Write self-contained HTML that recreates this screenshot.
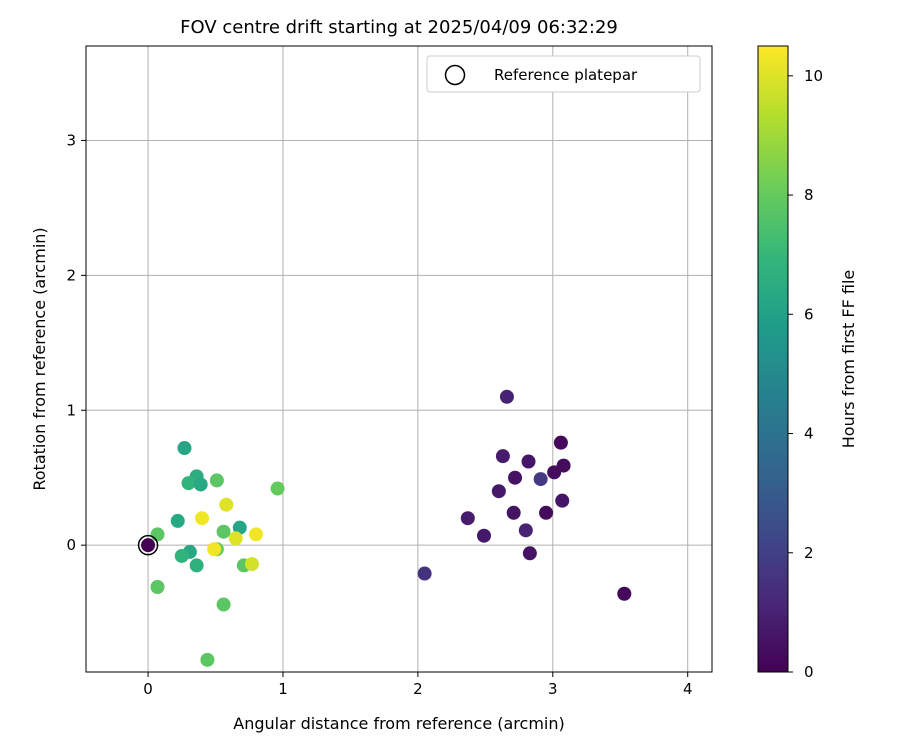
<!DOCTYPE html>
<html><head><meta charset="utf-8"><style>
body{margin:0;background:#fff;font-family:"Liberation Sans","DejaVu Sans",sans-serif}
svg text{font-family:"DejaVu Sans","Liberation Sans",sans-serif;fill:#000}
</style></head><body>
<svg id="chart" width="900" height="750" xmlns="http://www.w3.org/2000/svg">
<defs><linearGradient id="vir" x1="0" y1="1" x2="0" y2="0"></linearGradient></defs>
<g id="grid"></g>
<g id="pts"></g>
<g id="axes"></g>
</svg>
<script>
const xs=[2.66,3.06,3.08,3.01,2.63,2.82,2.72,2.91,2.60,3.07,2.37,2.71,2.95,2.80,2.49,2.83,2.05,3.53,
0.27,0.36,0.30,0.39,0.51,0.96,0.58,0.40,0.22,0.68,0.56,0.80,0.65,0.07,0.31,0.25,0.51,0.49,0.36,0.71,0.77,0.07,0.56,0.44,0];
const ys=[1.10,0.76,0.59,0.54,0.66,0.62,0.50,0.49,0.40,0.33,0.20,0.24,0.24,0.11,0.07,-0.06,-0.21,-0.36,
0.72,0.51,0.46,0.45,0.48,0.42,0.30,0.20,0.18,0.13,0.10,0.08,0.05,0.08,-0.05,-0.08,-0.03,-0.03,-0.15,-0.15,-0.14,-0.31,-0.44,-0.85,0];
const hours=[1.0,0.2,0.3,0.3,0.8,0.6,0.5,1.8,0.7,0.6,0.8,0.5,0.3,1.0,0.7,0.5,1.5,0.2,
6.2,6.5,6.8,6.3,7.8,8.0,10.0,10.3,6.3,6.2,7.8,10.3,10.0,7.8,6.3,6.8,8.0,10.3,6.7,7.8,9.8,7.8,7.8,7.8,0];
const xTicks=[0,1,2,3,4], yTicks=[0,1,2,3], cTicks=[0,2,4,6,8,10];
const L=86,R=712,T=46,B=672,xmin=-0.46,xmax=4.18,ymin=-0.94,ymax=3.7,cmax=10.5;
const X=v=>L+(v-xmin)/(xmax-xmin)*(R-L), Y=v=>B-(v-ymin)/(ymax-ymin)*(B-T);
const vir=[[68,1,84],[72,40,120],[62,74,137],[49,104,142],[38,130,142],[31,158,137],[53,183,121],[109,205,89],[180,222,44],[253,231,37]];
function col(h){let t=Math.max(0,Math.min(1,h/cmax))*9,i=Math.min(8,Math.floor(t)),f=t-i;
 const c=vir[i].map((a,k)=>Math.round(a+(vir[i+1][k]-a)*f));return `rgb(${c})`;}
const NS="http://www.w3.org/2000/svg";
function mk(p,tag,at,txt){const e=document.createElementNS(NS,tag);for(const k in at)e.setAttribute(k,at[k]);if(txt!==undefined)e.textContent=txt;p.appendChild(e);return e;}
const svg=document.getElementById('chart'),grid=document.getElementById('grid'),pts=document.getElementById('pts'),ax=document.getElementById('axes');
const gr=svg.querySelector('#vir');
vir.forEach((c,i)=>mk(gr,'stop',{offset:(i/9),'stop-color':`rgb(${c})`}));
xTicks.forEach(v=>{const l=mk(grid,'line',{x1:X(v),x2:X(v),y1:T,y2:B,stroke:'#b0b0b0','stroke-width':1});
 mk(ax,'line',{x1:X(v),x2:X(v),y1:B,y2:B+5,stroke:'#000'});
 const t=mk(ax,'text',{x:X(v),y:B+22,'text-anchor':'middle','font-size':15},v);});
yTicks.forEach(v=>{const l=mk(grid,'line',{x1:L,x2:R,y1:Y(v),y2:Y(v),stroke:'#b0b0b0','stroke-width':1});
 mk(ax,'line',{x1:L-5,x2:L,y1:Y(v),y2:Y(v),stroke:'#000'});
 const t=mk(ax,'text',{x:L-10,y:Y(v)+5,'text-anchor':'end','font-size':15},v);});
xs.forEach((x,i)=>{const c=mk(pts,'circle',{cx:X(x),cy:Y(ys[i]),r:7,fill:col(hours[i])});});
const ref=mk(pts,'circle',{cx:X(0),cy:Y(0),r:9.5,fill:'none',stroke:'#000','stroke-width':1.5});
const fr=mk(ax,'rect',{x:L,y:T,width:R-L,height:B-T,fill:'none',stroke:'#000','stroke-width':1});
const ti=mk(ax,'text',{x:399,y:33,'text-anchor':'middle','font-size':18},'FOV centre drift starting at 2025/04/09 06:32:29');
const xl=mk(ax,'text',{x:399,y:729,'text-anchor':'middle','font-size':16},'Angular distance from reference (arcmin)');
const yl=mk(ax,'text',{x:0,y:0,'text-anchor':'middle','font-size':16,transform:'translate(45,359) rotate(-90)'},'Rotation from reference (arcmin)');
// legend
const lg=mk(ax,'g',{});
mk(lg,'rect',{x:427,y:56,width:273,height:36,rx:3,fill:'#fff',stroke:'#ccc'});
mk(lg,'circle',{cx:455,cy:75,r:9.5,fill:'none',stroke:'#000','stroke-width':1.5});
const lt=mk(lg,'text',{x:494,y:80,'font-size':15},'Reference platepar');
// colorbar
const CB=(v)=>B-v/cmax*(B-T);
const cb=mk(ax,'rect',{x:758,y:T,width:30,height:B-T,fill:'url(#vir)',stroke:'#000','stroke-width':1});
cTicks.forEach(v=>{mk(ax,'line',{x1:788,x2:793,y1:CB(v),y2:CB(v),stroke:'#000'});
 const t=mk(ax,'text',{x:804,y:CB(v)+5,'font-size':15},v);});
const cl=mk(ax,'text',{x:0,y:0,'text-anchor':'middle','font-size':16,transform:'translate(854,359) rotate(-90)'},'Hours from first FF file');
</script>
</body></html>
